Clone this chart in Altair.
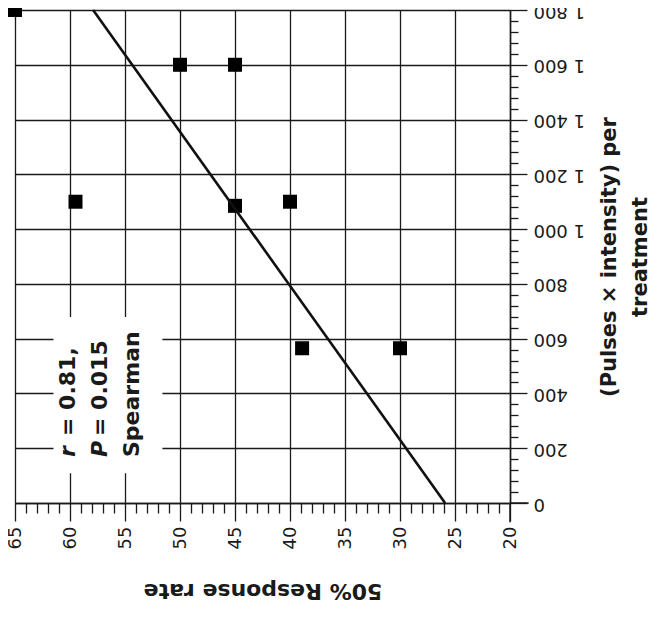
import altair as alt
import pandas as pd

# --- data ---
rate = [65, 50, 45, 59.5, 45, 40, 38.9, 30]
pulses = [1800, 1600, 1600, 1100, 1085, 1100, 565, 565]

fit_rate = [25.9, 57.9]
fit_pulses = [0, 1800]

rate_ticks = list(range(20, 66))          # major every 5, minor every 1
pulse_ticks = list(range(0, 1801, 40))    # major every 200, minor every 40

# axis lines run a little past the corner where they cross
axis_overhang_rate = [20, 18.3]
axis_overhang_pulses = [0, -70]

x_title = "50% Response rate"
y_title = ["(Pulses \u00d7 intensity) per", "treatment"]

note_italic = ["r", "P"]
note_italic_rate = [60.2, 57.3]
note_rest = ["= 0.81,", "= 0.015"]
note_rest_rate = [60.2, 57.3]
note_last = ["Spearman"]
note_last_rate = [54.4]
note_start = 168
note_box_rate = [61.5, 51.6]
note_box_pulses = [109, 679]

FONT = "DejaVu Sans"
INK = "#1a1a1a"

pts = pd.DataFrame({"rate": rate, "pulses": pulses})
fit = pd.DataFrame({"rate": fit_rate, "pulses": fit_pulses})

xs = alt.Scale(domain=[20, 65], reverse=True, nice=False, zero=False)
ys = alt.Scale(domain=[0, 1800], nice=False, zero=False)

x_axis = alt.Axis(
    values=rate_ticks, tickCount=500, orient="bottom", grid=True,
    gridColor=INK, gridWidth=1.3,
    gridOpacity={"condition": {"test": "datum.value % 5 === 0", "value": 1}, "value": 0},
    tickSize={"condition": {"test": "datum.value % 5 === 0", "value": 18}, "value": 10},
    tickColor=INK, tickWidth=1.3,
    domainColor=INK, domainWidth=1.5,
    labelExpr="datum.value % 5 === 0 ? format(datum.value, 'd') : ''",
    labelAngle=270, labelAlign="right", labelBaseline="middle",
    labelPadding=5, labelFont=FONT, labelFontSize=18, labelColor=INK,
    labelOverlap=False, labelFlush=False, labelBound=False,
    title=x_title, titleAngle=180, titleFont=FONT, titleFontSize=22,
    titleFontWeight="bold", titleColor=INK, titlePadding=52,
)

y_axis = alt.Axis(
    values=pulse_ticks, tickCount=500, orient="right", grid=True,
    gridColor=INK, gridWidth=1.3,
    gridOpacity={"condition": {"test": "datum.value % 200 === 0", "value": 1}, "value": 0},
    tickSize={"condition": {"test": "datum.value % 200 === 0", "value": 17}, "value": 8},
    tickColor=INK, tickWidth=1.3,
    domainColor=INK, domainWidth=1.5,
    labelExpr="datum.value % 200 === 0 ? replace(format(datum.value, ','), ',', ' ') : ''",
    labelAngle=180, labelAlign="right", labelBaseline="middle",
    labelPadding=6, labelFont=FONT, labelFontSize=18, labelColor=INK,
    labelOverlap=False, labelFlush=False, labelBound=False,
    title=y_title, titleAngle=270, titleFont=FONT, titleFontSize=21,
    titleFontWeight="bold", titleColor=INK, titlePadding=4,
    titleLineHeight=31,
)

base_pts = alt.Chart(pts).mark_square(size=196, color="black", opacity=1, filled=True).encode(
    x=alt.X("rate:Q", scale=xs, axis=x_axis),
    y=alt.Y("pulses:Q", scale=ys, axis=y_axis),
)

line = alt.Chart(fit).mark_line(color="#111111", strokeWidth=2.6).encode(
    x=alt.X("rate:Q", scale=xs),
    y=alt.Y("pulses:Q", scale=ys),
)

over_x = alt.Chart(pd.DataFrame({
    "r1": [axis_overhang_rate[0]], "r2": [axis_overhang_rate[1]], "p": [axis_overhang_pulses[0]],
})).mark_rule(color=INK, strokeWidth=1.5).encode(
    x=alt.X("r1:Q", scale=xs), x2="r2:Q", y=alt.Y("p:Q", scale=ys),
)
over_y = alt.Chart(pd.DataFrame({
    "r": [axis_overhang_rate[0]], "p1": [axis_overhang_pulses[0]], "p2": [axis_overhang_pulses[1]],
})).mark_rule(color=INK, strokeWidth=1.5).encode(
    x=alt.X("r:Q", scale=xs), y=alt.Y("p1:Q", scale=ys), y2="p2:Q",
)

box = alt.Chart(pd.DataFrame({
    "r1": [note_box_rate[0]], "r2": [note_box_rate[1]],
    "p1": [note_box_pulses[0]], "p2": [note_box_pulses[1]],
})).mark_rect(color="white").encode(
    x=alt.X("r1:Q", scale=xs), x2="r2:Q",
    y=alt.Y("p1:Q", scale=ys), y2="p2:Q",
)

t_it = alt.Chart(pd.DataFrame({"t": note_italic, "rate": note_italic_rate,
                               "p": [note_start] * len(note_italic)})).mark_text(
    angle=270, align="left", baseline="middle", font=FONT, fontSize=22,
    fontWeight="bold", fontStyle="italic", color=INK,
).encode(x=alt.X("rate:Q", scale=xs), y=alt.Y("p:Q", scale=ys), text="t:N")

t_rest = alt.Chart(pd.DataFrame({"t": note_rest, "rate": note_rest_rate,
                                 "p": [note_start] * len(note_rest)})).mark_text(
    angle=270, align="left", baseline="middle", font=FONT, fontSize=22,
    fontWeight="bold", color=INK, dx=21,
).encode(x=alt.X("rate:Q", scale=xs), y=alt.Y("p:Q", scale=ys), text="t:N")

t_last = alt.Chart(pd.DataFrame({"t": note_last, "rate": note_last_rate,
                                 "p": [note_start] * len(note_last)})).mark_text(
    angle=270, align="left", baseline="middle", font=FONT, fontSize=22,
    fontWeight="bold", color=INK,
).encode(x=alt.X("rate:Q", scale=xs), y=alt.Y("p:Q", scale=ys), text="t:N")

chart = alt.layer(base_pts, line, over_x, over_y, box, t_it, t_rest, t_last).properties(
    width=495, height=493,
    autosize=alt.AutoSizeParams(type="none"),
    padding={"left": 7, "top": 2, "right": 140, "bottom": 110},
).configure_view(stroke=None)

chart.save("out.html", embed_options={"renderer": "svg", "actions": False})
